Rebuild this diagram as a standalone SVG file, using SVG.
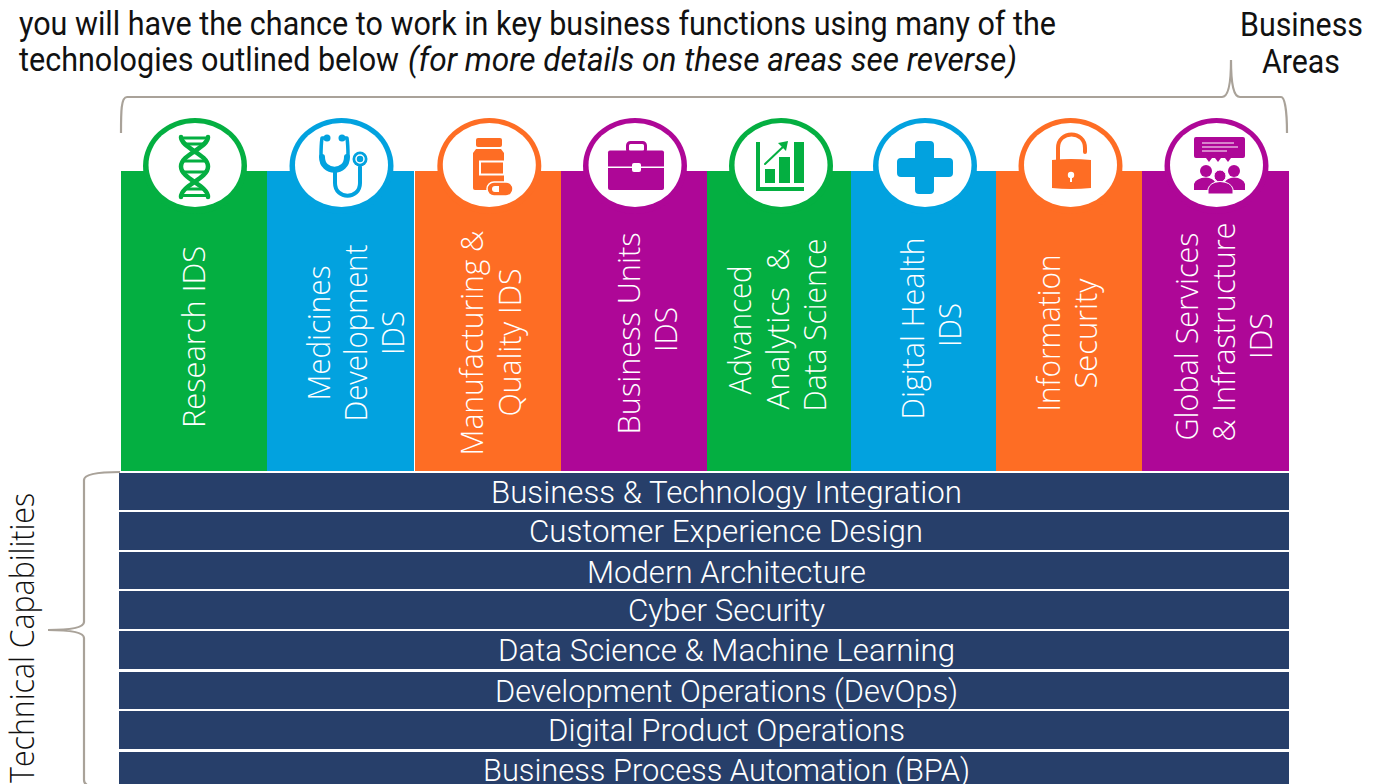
<svg xmlns="http://www.w3.org/2000/svg" width="1377" height="784" viewBox="0 0 1377 784">
<style>
text{font-family:"Open Sans","Liberation Sans",sans-serif;font-weight:300}
.h{font-family:Roboto,"Liberation Sans",sans-serif;font-size:33px;fill:#111;font-weight:400}
.i{font-style:italic}
.r{font-family:Roboto,"Liberation Sans",sans-serif;font-size:32px;fill:#fff;font-weight:300;text-anchor:middle}
.v{font-size:32px;fill:#fff;text-anchor:middle}
.bar{fill:#273f6a}
.brace{fill:none;stroke:#a9a299;stroke-width:2.200}
.hole{fill:#fff}
.g{fill:#04af41}.b{fill:#02a2df}.o{fill:#fe6d24}.p{fill:#ae0797}
.gs{stroke:#04af41}.bs{stroke:#02a2df}.os{stroke:#fe6d24}.ps{stroke:#ae0797}
.ln{fill:none;stroke-linecap:round;stroke-linejoin:round}
.w{fill:#fff}
.ws{fill:none;stroke:#fff}
</style>
<rect width="1377" height="784" fill="#fff"/>
<g id="heading">
<text class="h" x="19" y="35" textLength="1037" lengthAdjust="spacingAndGlyphs">you will have the chance to work in key business functions using many of the</text>
<text class="h" x="19" y="71" textLength="380" lengthAdjust="spacingAndGlyphs">technologies outlined below</text>
<text class="h i" x="408" y="71" textLength="609" lengthAdjust="spacingAndGlyphs">(for more details on these areas see reverse)</text>
</g>
<g id="label-business-areas">
<text class="h" x="1240" y="36" textLength="123" lengthAdjust="spacingAndGlyphs">Business</text>
<text class="h" x="1262" y="73" textLength="78" lengthAdjust="spacingAndGlyphs">Areas</text>
</g>
<g id="label-technical-capabilities">
<text transform="translate(34,783) rotate(-90)" font-size="33" fill="#111" textLength="290" lengthAdjust="spacingAndGlyphs">Technical Capabilities</text>
</g>
<g id="connectors">
<path class="brace" d="M121,133C121,112 121,97 127,97L1222,97C1228,97 1231,85 1231,60C1231,85 1234,97 1240,97L1281,97C1285,97 1287,112 1287,133"/>
<path class="brace" d="M120,472C100,472 84,474 84,480L84,622C84,628 70,630 48,630C70,630 84,632 84,638L84,780C84,782 85,784 87,785"/>
</g>
<g id="col-research">
<rect class="g" x="121" y="171" width="146" height="300"/>
<ellipse class="g" cx="195" cy="166" rx="52" ry="48"/><ellipse class="hole" cx="195" cy="165" rx="46.500" ry="42"/>
<path class="ln gs" stroke-width="4.500" d="M181,137C181,148 208,154 208,166.500C208,179 181,185 181,197M208,137C208,148 181,154 181,166.500C181,179 208,185 208,197"/>
<path class="ln gs" stroke-width="3" d="M181,138H208M186,144H203M183,161H206M183,172H206M186,189H203M181,195.500H208"/>
<text class="v" transform="translate(205,337) rotate(-90)" textLength="182" lengthAdjust="spacingAndGlyphs">Research IDS</text>
</g>
<g id="col-medicines">
<rect class="b" x="267" y="171" width="147" height="300"/>
<ellipse class="b" cx="341.500" cy="166" rx="52" ry="48"/><ellipse class="hole" cx="341.500" cy="165" rx="46.500" ry="42"/>
<path class="ln bs" stroke-width="3.500" d="M324,138H322C321,145 321,150 321,156M345,138H347C348,145 348,150 348,156"/>
<circle class="b" cx="327" cy="138" r="3.500"/><circle class="b" cx="342" cy="138" r="3.500"/>
<path class="ln bs" stroke-width="6" d="M322,157C322,174 347,174 347,157"/>
<path class="ln bs" stroke-width="4" d="M335,172V183C335,200 360,200 360,183V167"/>
<circle class="b" cx="360" cy="159" r="7.500"/><circle class="ws" cx="360" cy="159" r="4" stroke-width="1.500"/>
<text class="v" transform="translate(330,333) rotate(-90)" textLength="135" lengthAdjust="spacingAndGlyphs">Medicines</text>
<text class="v" transform="translate(367,333) rotate(-90)" textLength="177" lengthAdjust="spacingAndGlyphs">Development</text>
<text class="v" transform="translate(404,333) rotate(-90)" textLength="44" lengthAdjust="spacingAndGlyphs">IDS</text>
</g>
<g id="col-manufacturing">
<rect class="o" x="415" y="171" width="146" height="300"/>
<ellipse class="o" cx="489.300" cy="166" rx="52" ry="48"/><ellipse class="hole" cx="489.300" cy="165" rx="46.500" ry="42"/>
<rect class="o" x="476" y="138" width="26" height="9" rx="2"/>
<path class="o" d="M476,149H501L504,153V190H475Q473,190 473,188V153Z"/>
<rect class="o" x="480" y="161.500" width="24" height="13" stroke="#fff" stroke-width="2"/>
<rect class="o" x="487" y="182" width="26" height="14" rx="7" stroke="#fff" stroke-width="1.500"/>
<path class="w" d="M495,186H499V192H495Q492,192 492,189Q492,186 495,186Z"/>
<text class="v" transform="translate(483,343) rotate(-90)" textLength="225" lengthAdjust="spacingAndGlyphs">Manufacturing &amp;</text>
<text class="v" transform="translate(521,342.500) rotate(-90)" textLength="148" lengthAdjust="spacingAndGlyphs">Quality IDS</text>
</g>
<g id="col-business-units">
<rect class="p" x="561" y="171" width="146" height="300"/>
<ellipse class="p" cx="635" cy="166" rx="52" ry="48"/><ellipse class="hole" cx="635" cy="165" rx="46.500" ry="42"/>
<rect class="ln ps" x="627.500" y="142.500" width="18" height="10" rx="3" stroke-width="3"/>
<rect class="p" x="608" y="150.500" width="56" height="39.500" rx="2"/>
<rect class="w" x="608" y="166.500" width="56" height="1.500"/>
<rect class="w" x="632" y="163" width="9" height="9" rx="2"/>
<text class="v" transform="translate(640,333.500) rotate(-90)" textLength="202" lengthAdjust="spacingAndGlyphs">Business Units</text>
<text class="v" transform="translate(677,329.500) rotate(-90)" textLength="45" lengthAdjust="spacingAndGlyphs">IDS</text>
</g>
<g id="col-analytics">
<rect class="g" x="707" y="171" width="144" height="300"/>
<ellipse class="g" cx="781" cy="166" rx="52" ry="48"/><ellipse class="hole" cx="781" cy="165" rx="46.500" ry="42"/>
<path class="g" d="M756,142H760V187H804V191H756Z"/>
<rect class="g" x="765" y="169" width="10" height="14"/><rect class="g" x="779" y="157" width="11" height="26"/><rect class="g" x="794" y="142" width="10" height="41"/>
<path class="ln gs" stroke-width="2" d="M765,164L785,145"/><path class="g" d="M778,143L788,141L786,151Z"/>
<text class="v" transform="translate(751,330) rotate(-90)" textLength="129" lengthAdjust="spacingAndGlyphs">Advanced</text>
<text class="v" transform="translate(789,329) rotate(-90)" textLength="161" lengthAdjust="spacingAndGlyphs" xml:space="preserve">Analytics  &amp;</text>
<text class="v" transform="translate(826,325) rotate(-90)" textLength="173" lengthAdjust="spacingAndGlyphs">Data Science</text>
</g>
<g id="col-digital-health">
<rect class="b" x="851" y="171" width="145" height="300"/>
<ellipse class="b" cx="925" cy="166" rx="52" ry="48"/><ellipse class="hole" cx="925" cy="165" rx="46.500" ry="42"/>
<path class="b" d="M919,141H930Q934,141 934,145V158H949Q953,158 953,162V173Q953,177 949,177H934V190Q934,194 930,194H919Q915,194 915,190V177H901Q897,177 897,173V162Q897,158 901,158H915V145Q915,141 919,141Z"/>
<text class="v" transform="translate(924,328.500) rotate(-90)" textLength="182" lengthAdjust="spacingAndGlyphs">Digital Health</text>
<text class="v" transform="translate(961,325) rotate(-90)" textLength="44" lengthAdjust="spacingAndGlyphs">IDS</text>
</g>
<g id="col-infosec">
<rect class="o" x="996" y="171" width="146" height="300"/>
<ellipse class="o" cx="1070.500" cy="166" rx="52" ry="48"/><ellipse class="hole" cx="1070.500" cy="165" rx="46.500" ry="42"/>
<path class="ln os" stroke-width="4" d="M1058,160V148C1058,130 1085,130 1085,148V152"/>
<path class="o" d="M1052,160Q1071,158 1091,160V188Q1071,190 1052,188Z"/>
<circle class="w" cx="1071" cy="175" r="3.200"/><rect class="w" x="1070" y="175" width="2" height="7"/>
<text class="v" transform="translate(1060,333) rotate(-90)" textLength="157" lengthAdjust="spacingAndGlyphs">Information</text>
<text class="v" transform="translate(1097,333.500) rotate(-90)" textLength="110" lengthAdjust="spacingAndGlyphs">Security</text>
</g>
<g id="col-global-services">
<rect class="p" x="1142" y="171" width="147" height="300"/>
<ellipse class="p" cx="1216.500" cy="166" rx="52" ry="48"/><ellipse class="hole" cx="1216.500" cy="165" rx="46.500" ry="42"/>
<path class="p" d="M1196,137H1243Q1245,137 1245,139V156Q1245,158 1243,158H1231L1228,162L1225,158H1221L1218,162L1215,158H1212L1209,162L1206,158H1196Q1194,158 1194,156V139Q1194,137 1196,137Z"/>
<path class="ws" stroke-width="1.200" d="M1202,143H1234M1202,147H1238M1202,151H1227"/>
<circle class="p" cx="1206" cy="171" r="6"/><circle class="p" cx="1234" cy="171" r="6"/>
<path class="p" d="M1194,190V184Q1196,178 1206,177.500Q1213,178 1215,182L1209,190ZM1245,190V184Q1243,178 1234,177.500Q1227,178 1225,182L1231,190Z"/>
<circle class="p" cx="1220" cy="176" r="6" stroke="#fff"/>
<path class="p" stroke="#fff" d="M1208,194V189Q1210,182 1220,181.500Q1231,182 1233,189V194Z"/>
<text class="v" transform="translate(1198,336.500) rotate(-90)" textLength="208" lengthAdjust="spacingAndGlyphs">Global Services</text>
<text class="v" transform="translate(1235,332) rotate(-90)" textLength="219" lengthAdjust="spacingAndGlyphs">&amp; Infrastructure</text>
<text class="v" transform="translate(1272,336) rotate(-90)" textLength="46" lengthAdjust="spacingAndGlyphs">IDS</text>
</g>
<g id="row-integration"><rect class="bar" x="119" y="473" width="1170" height="37"/><text class="r" x="726.500" y="503" textLength="471" lengthAdjust="spacingAndGlyphs">Business &amp; Technology Integration</text></g>
<g id="row-cx"><rect class="bar" x="119" y="512" width="1170" height="38"/><text class="r" x="726" y="542" textLength="394" lengthAdjust="spacingAndGlyphs">Customer Experience Design</text></g>
<g id="row-architecture"><rect class="bar" x="119" y="552" width="1170" height="37"/><text class="r" x="726.500" y="583" textLength="279" lengthAdjust="spacingAndGlyphs">Modern Architecture</text></g>
<g id="row-cyber"><rect class="bar" x="119" y="591" width="1170" height="38"/><text class="r" x="726.500" y="621" textLength="197" lengthAdjust="spacingAndGlyphs">Cyber Security</text></g>
<g id="row-data-science"><rect class="bar" x="119" y="631" width="1170" height="38"/><text class="r" x="726.500" y="661" textLength="457" lengthAdjust="spacingAndGlyphs">Data Science &amp; Machine Learning</text></g>
<g id="row-devops"><rect class="bar" x="119" y="672" width="1170" height="37"/><text class="r" x="726.500" y="702" textLength="463" lengthAdjust="spacingAndGlyphs">Development Operations (DevOps)</text></g>
<g id="row-product"><rect class="bar" x="119" y="711" width="1170" height="38"/><text class="r" x="726.500" y="741" textLength="357" lengthAdjust="spacingAndGlyphs">Digital Product Operations</text></g>
<g id="row-bpa"><rect class="bar" x="119" y="752" width="1170" height="32"/><text class="r" x="726.500" y="781" textLength="487" lengthAdjust="spacingAndGlyphs">Business Process Automation (BPA)</text></g>
</svg>
